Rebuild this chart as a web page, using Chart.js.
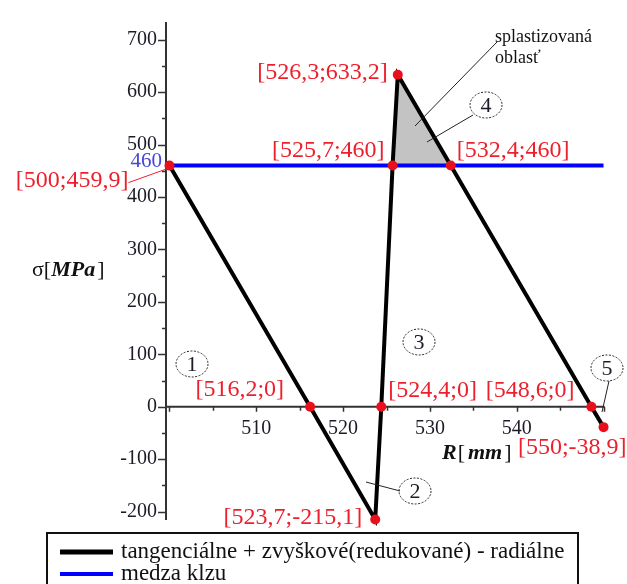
<!DOCTYPE html>
<html>
<head>
<meta charset="utf-8">
<script src="https://cdn.jsdelivr.net/npm/chart.js@4.4.1/dist/chart.umd.min.js"></script>
<style>
  html, body { margin: 0; padding: 0; background: #fff; }
  #wrap { width: 627px; height: 584px; position: relative; }
</style>
</head>
<body>
<div id="wrap"><canvas id="c"></canvas></div>
<script>
// Stress profile along the radius (R in mm, sigma in MPa)
const radius = [500, 516.2, 523.7, 524.4, 525.7, 526.3, 532.4, 548.6, 550];
const stress = [459.9, 0, -215.1, 0, 460, 633.2, 460, 0, -38.9];
const pointLabels = ['[500;459,9]', '[516,2;0]', '[523,7;-215,1]', '[524,4;0]', '[525,7;460]',
                     '[526,3;633,2]', '[532,4;460]', '[548,6;0]', '[550;-38,9]'];

// Yield limit line
const yieldLimit = 460;
const yieldRadius = [500, 550];

// Plastic zone (region above the yield limit)
const plasticRadius = [525.7, 526.3, 532.4];
const plasticStress = [460, 633.2, 460];

// Axis ticks
const xTickLabels = [510, 520, 530, 540];
const yTickLabels = [-200, -100, 0, 100, 200, 300, 400, 500, 600, 700];

const seriesNames = ['tangenciálne + zvyškové(redukované) - radiálne', 'medza klzu'];
const zoneNote = ['splastizovaná', 'oblasť'];
const zoneNumbers = ['1', '2', '3', '4', '5'];

const mainPts = radius.map((r, i) => ({ x: r, y: stress[i] }));
const yieldPts = yieldRadius.map(r => ({ x: r, y: yieldLimit }));
const plasticPts = plasticRadius.map((r, i) => ({ x: r, y: plasticStress[i] }));

const RED = '#ee1f2c';
const SERIF = '"Liberation Serif", "Times New Roman", serif';

// label placement relative to each point: dx, dy in px and text alignment
const labelPlace = [
  { dx: -41, dy: 15, align: 'right' },
  { dx: -26, dy: -17, align: 'right' },
  { dx: -13, dy: -2, align: 'right' },
  { dx: 7, dy: -16, align: 'left' },
  { dx: -8, dy: -15, align: 'right' },
  { dx: -10, dy: -2, align: 'right' },
  { dx: 6, dy: -15, align: 'left' },
  { dx: -17, dy: -16, align: 'right' },
  { dx: 23, dy: 21, align: 'right' }
];

const axesPlugin = {
  id: 'crossAxes',
  beforeDatasetsDraw(chart) {
    const { ctx, chartArea: a, scales: { x, y } } = chart;
    const y0 = y.getPixelForValue(0);
    const xr = x.getPixelForValue(550);
    ctx.save();
    ctx.strokeStyle = '#333';
    ctx.lineWidth = 2;
    ctx.beginPath();
    ctx.moveTo(a.left, a.top - 2);
    ctx.lineTo(a.left, a.bottom);
    ctx.moveTo(a.left, y0);
    ctx.lineTo(xr + 1, y0);
    ctx.stroke();

    ctx.lineWidth = 1.5;
    ctx.beginPath();
    for (let v = -200; v <= 700; v += 50) {
      const py = Math.round(y.getPixelForValue(v)) + 0.5;
      const len = v % 100 === 0 ? 8 : 4;
      ctx.moveTo(a.left - len, py);
      ctx.lineTo(a.left, py);
    }
    for (let v = 500; v <= 550; v += 5) {
      const px = Math.round(x.getPixelForValue(v)) + 0.5;
      const len = v % 10 === 0 ? 5 : 4;
      ctx.moveTo(px, y0);
      ctx.lineTo(px, y0 + len);
    }
    ctx.stroke();

    ctx.fillStyle = '#1c1c28';
    ctx.font = '20px ' + SERIF;
    ctx.textAlign = 'right';
    ctx.textBaseline = 'middle';
    yTickLabels.forEach(v => ctx.fillText(String(v), a.left - 9, y.getPixelForValue(v)));
    ctx.textAlign = 'center';
    xTickLabels.forEach(v => ctx.fillText(String(v), x.getPixelForValue(v), y0 + 22));

    // yield limit value on the vertical axis
    ctx.fillStyle = '#4646d8';
    ctx.font = '21px ' + SERIF;
    ctx.textAlign = 'right';
    ctx.fillText(String(yieldLimit), a.left - 4, y.getPixelForValue(yieldLimit) - 4);
    ctx.restore();
  }
};

function drawMixed(ctx, parts, x, yMid) {
  let cx = x;
  parts.forEach(p => {
    ctx.font = p.f;
    ctx.fillText(p.t, cx, yMid);
    cx += ctx.measureText(p.t).width + (p.gap || 0);
  });
}

function zoneCircle(ctx, cx, cy, text) {
  ctx.save();
  ctx.strokeStyle = '#222';
  ctx.lineWidth = 1;
  ctx.setLineDash([2, 1.5]);
  ctx.beginPath();
  ctx.ellipse(cx, cy, 16, 13, 0, 0, Math.PI * 2);
  ctx.stroke();
  ctx.setLineDash([]);
  ctx.fillStyle = '#1c1c28';
  ctx.font = '22px ' + SERIF;
  ctx.textAlign = 'center';
  ctx.textBaseline = 'middle';
  ctx.fillText(text, cx, cy + 1);
  ctx.restore();
}

const notesPlugin = {
  id: 'notes',
  afterDatasetsDraw(chart) {
    const { ctx, scales: { x, y } } = chart;
    ctx.save();

    // leader lines
    ctx.strokeStyle = '#222';
    ctx.lineWidth = 1;
    ctx.beginPath();
    ctx.moveTo(497, 42); ctx.lineTo(415, 126);      // plastic zone note
    ctx.moveTo(473, 115); ctx.lineTo(427, 142);     // zone 4
    ctx.moveTo(400, 491); ctx.lineTo(366, 482);     // zone 2
    ctx.moveTo(609, 381); ctx.lineTo(602, 412);     // zone 5
    ctx.stroke();

    // red value labels
    ctx.fillStyle = RED;
    ctx.font = '24px ' + SERIF;
    ctx.textBaseline = 'middle';
    radius.forEach((r, i) => {
      const px = x.getPixelForValue(r);
      const py = y.getPixelForValue(stress[i]);
      const pl = labelPlace[i];
      ctx.textAlign = pl.align;
      ctx.fillText(pointLabels[i], px + pl.dx, py + pl.dy);
    });
    // leader for the first label
    const p0x = x.getPixelForValue(radius[0]);
    const p0y = y.getPixelForValue(stress[0]);
    ctx.strokeStyle = RED;
    ctx.lineWidth = 1;
    ctx.beginPath();
    ctx.moveTo(p0x - 41, p0y + 17);
    ctx.lineTo(p0x - 2, p0y + 3);
    ctx.stroke();

    // zone numbers
    zoneCircle(ctx, 192, 364, zoneNumbers[0]);
    zoneCircle(ctx, 415, 491, zoneNumbers[1]);
    zoneCircle(ctx, 419, 342, zoneNumbers[2]);
    zoneCircle(ctx, 486, 105, zoneNumbers[3]);
    zoneCircle(ctx, 607, 368, zoneNumbers[4]);

    // plastic zone note
    ctx.fillStyle = '#111';
    ctx.font = '18px ' + SERIF;
    ctx.textAlign = 'left';
    ctx.textBaseline = 'middle';
    ctx.fillText(zoneNote[0], 495, 37);
    ctx.fillText(zoneNote[1], 495, 58);

    // axis titles
    ctx.fillStyle = '#111';
    const bi = 'bold italic 22px ' + SERIF;
    const rg = '22px ' + SERIF;
    drawMixed(ctx, [
      { t: 'σ', f: rg }, { t: '[', f: rg }, { t: 'MPa', f: bi, gap: 2 }, { t: ']', f: rg }
    ], 32, 270);
    drawMixed(ctx, [
      { t: 'R', f: bi, gap: 1 }, { t: '[', f: rg, gap: 3 }, { t: 'mm', f: bi, gap: 2 }, { t: ']', f: rg }
    ], 442, 453);
    ctx.restore();
  },
  afterDraw(chart) {
    const { ctx } = chart;
    const items = chart.data.datasets.filter(d => d.label);
    ctx.save();
    ctx.strokeStyle = '#111';
    ctx.lineWidth = 2;
    ctx.strokeRect(47, 533, 531, 70);
    ctx.font = '23px ' + SERIF;
    ctx.textAlign = 'left';
    ctx.textBaseline = 'middle';
    items.forEach((d, i) => {
      const ly = 552 + i * 22;
      ctx.strokeStyle = d.borderColor;
      ctx.lineWidth = d.legendWidth;
      ctx.beginPath();
      ctx.moveTo(60, ly);
      ctx.lineTo(113, ly);
      ctx.stroke();
      ctx.fillStyle = '#111';
      ctx.fillText(d.label, 121, ly);
    });
    ctx.restore();
  }
};

new Chart(document.getElementById('c'), {
  type: 'scatter',
  data: {
    datasets: [
      {
        label: '',
        data: plasticPts,
        showLine: true,
        fill: { value: yieldLimit },
        backgroundColor: '#c3c3c3',
        borderWidth: 0,
        pointRadius: 0,
        order: 4,
        clip: false
      },
      {
        label: seriesNames[0],
        data: mainPts,
        showLine: true,
        borderColor: '#000',
        borderWidth: 4,
        legendWidth: 5,
        pointRadius: 0,
        order: 2,
        clip: false
      },
      {
        label: seriesNames[1],
        data: yieldPts,
        showLine: true,
        borderColor: '#0000ff',
        borderWidth: 4,
        legendWidth: 4,
        pointRadius: 0,
        order: 3,
        clip: false
      },
      {
        label: '',
        data: mainPts,
        showLine: false,
        pointRadius: 5,
        pointBackgroundColor: '#e8101c',
        pointBorderWidth: 0,
        order: 1,
        clip: false
      }
    ]
  },
  options: {
    responsive: true,
    maintainAspectRatio: false,
    animation: false,
    events: [],
    layout: { padding: { left: 166, right: 20, top: 24, bottom: 64 } },
    plugins: { legend: { display: false }, tooltip: { enabled: false } },
    scales: {
      x: { type: 'linear', min: 499.6, max: 550.4, display: false },
      y: { type: 'linear', min: -216, max: 730, display: false }
    }
  },
  plugins: [axesPlugin, notesPlugin]
});
</script>
</body>
</html>
